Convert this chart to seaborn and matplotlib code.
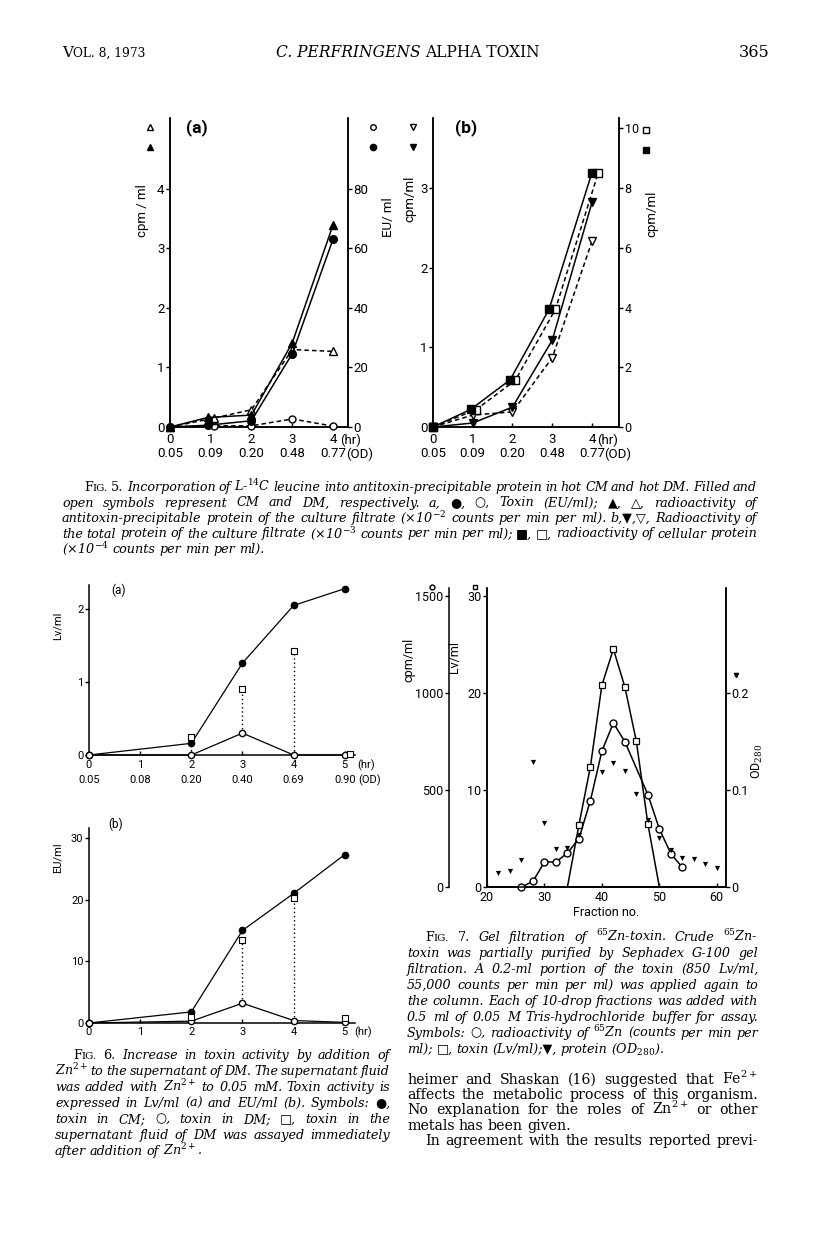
import matplotlib
matplotlib.use("Agg")
import matplotlib.pyplot as plt
from matplotlib.transforms import offset_copy
import seaborn as sns
import pandas as pd

W, H = 816, 1253

# ---------------- data ----------------
# Fig. 5 (a): toxin and radioactivity in the culture filtrate
fig5_hours = [0, 1, 2, 3, 4]
fig5_od = ["0.05", "0.09", "0.20", "0.48", "0.77"]
f5a_hr_filled = [0, 0.93, 2, 3, 4]
f5a_hr_open = [0, 1.08, 2, 3, 4]
f5a_cpm_cm = [0, 0.16, 0.20, 1.41, 3.39]   # filled triangle
f5a_cpm_dm = [0, 0.15, 0.29, 1.30, 1.27]   # open triangle
f5a_eu_cm = [0, 0.6, 2.1, 24.6, 63.0]      # filled circle
f5a_eu_dm = [0, 0.4, 0.4, 2.7, 0.3]        # open circle

# Fig. 5 (b): total protein and cellular protein
f5b_hr_tri = [0, 1, 2, 3, 4]
f5b_hr_sq_filled = [0, 0.95, 1.94, 2.92, 4.0]
f5b_hr_sq_open = [0, 1.08, 2.07, 3.08, 4.16]
f5b_total_cm = [0, 0.05, 0.25, 1.09, 2.82]  # filled down triangle
f5b_total_dm = [0, 0.15, 0.19, 0.87, 2.33]  # open down triangle
f5b_cell_cm = [0, 0.59, 1.58, 3.94, 8.52]   # filled square
f5b_cell_dm = [0, 0.58, 1.56, 3.94, 8.52]   # open square

# Fig. 6: toxin with Zn2+
fig6_hours = [0, 1, 2, 3, 4, 5]
fig6_od = ["0.05", "0.08", "0.20", "0.40", "0.69", "0.90"]
f6_hr = [0, 2, 3, 4, 5]
f6a_cm = [0, 0.16, 1.26, 2.05, 2.28]
f6a_dm = [0, 0.0, 0.30, 0.0, 0.0]
f6a_zn_hr = [2, 3, 4, 5.1]
f6a_zn = [0.25, 0.90, 1.42, 0.01]
f6b_cm = [0, 1.8, 15.0, 21.0, 27.3]
f6b_dm = [0, 0.3, 3.2, 0.4, 0.1]
f6b_zn_hr = [2, 3, 4, 5]
f6b_zn = [1.0, 13.4, 20.3, 0.8]

# Fig. 7: gel filtration
f7_frac_cpm = [26, 28, 30, 32, 34, 36, 38, 40, 42, 44, 48, 50, 52, 54]
f7_cpm = [0, 29, 129, 129, 175, 249, 445, 700, 845, 748, 476, 299, 172, 101]
f7_frac_lv = [34, 36, 38, 40, 42, 44, 46, 48, 50]
f7_lv = [0, 6.4, 12.4, 20.8, 24.5, 20.6, 15.0, 6.5, 0]
f7_frac_od = [22, 24, 26, 28, 30, 32, 34, 36, 40, 42, 44, 46, 48, 50, 52, 54, 56, 58, 60]
f7_od = [0.014, 0.016, 0.028, 0.129, 0.066, 0.039, 0.040, 0.054, 0.118, 0.128,
         0.120, 0.096, 0.069, 0.050, 0.038, 0.030, 0.029, 0.024, 0.020]

# ---------------- style ----------------
sns.set_style("ticks")
plt.rcParams["font.family"] = ["Roboto", "DejaVu Sans"]
plt.rcParams["mathtext.fontset"] = "dejavuserif"
plt.rcParams["axes.linewidth"] = 1.1
for k in ("text.color", "axes.labelcolor", "axes.edgecolor", "xtick.color", "ytick.color"):
    plt.rcParams[k] = "black"

fig = plt.figure(figsize=(W / 100, H / 100), dpi=100)
fig.patch.set_facecolor("white")
rend = fig.canvas.get_renderer()
SERIF = ["DejaVu Serif", "DejaVu Sans"]


def add_ax(x0, y0, x1, y1):
    a = fig.add_axes([x0 / W, 1 - y1 / H, (x1 - x0) / W, (y1 - y0) / H])
    a.patch.set_alpha(0)
    return a


def curve(ax, x, y, marker, filled, ls="-", ms=6, lw=1.1, **kw):
    df = pd.DataFrame({"x": x, "y": y})
    sns.lineplot(data=df, x="x", y="y", ax=ax, sort=False, estimator=None,
                 color="k", marker=marker, markersize=ms,
                 markerfacecolor="k" if filled else "white",
                 markeredgecolor="k", markeredgewidth=1.0,
                 linewidth=lw, linestyle=ls, clip_on=False, zorder=3, **kw)
    ax.set_xlabel("")
    ax.set_ylabel("")


def y_axis(ax, side, ticks, size):
    ax.set_yticks(ticks)
    ax.set_yticklabels([f"{t:g}" for t in ticks])
    ax.tick_params(axis="y", direction="out", length=3, width=1, pad=1,
                   labelsize=size, left=side == "left", right=side == "right",
                   labelleft=side == "left", labelright=side == "right")


def x_rows(ax, xs, rows, dys, size, units, unit_dx):
    ax.set_xticks(xs)
    ax.tick_params(axis="x", direction="in", length=3, width=1, labelbottom=False)
    for labels, dy, unit, udx in zip(rows, dys, units, unit_dx):
        tr = offset_copy(ax.get_xaxis_transform(), fig=fig, x=0, y=-dy, units="dots")
        for x, lab in zip(xs, labels):
            ax.text(x, 0, lab, transform=tr, ha="center", va="center", fontsize=size)
        if unit:
            tr2 = offset_copy(ax.get_xaxis_transform(), fig=fig, x=udx, y=-dy, units="dots")
            ax.text(xs[-1], 0, unit, transform=tr2, ha="left", va="center", fontsize=size)


def key(ax, xa, ya, marker, filled, ms=6):
    ax.plot([xa], [ya], marker=marker, ms=ms, color="k", mfc="k" if filled else "white",
            mec="k", mew=1, transform=ax.transAxes, clip_on=False)


# ---------------- Fig. 5a ----------------
ax = add_ax(170, 118, 348, 427)
ax.set_xlim(0, 4.37)
ax.set_ylim(0, 5.19)
axr = ax.twinx()
axr.set_ylim(0, 103.8)
curve(ax, f5a_hr_open, f5a_cpm_dm, "^", False, ls=(0, (3, 2)), ms=6)
curve(ax, f5a_hr_filled, f5a_cpm_cm, "^", True, ms=6)
curve(axr, f5a_hr_open, f5a_eu_dm, "o", False, ls=(0, (3, 2)), ms=5)
curve(axr, f5a_hr_filled, f5a_eu_cm, "o", True, ms=5.5)
for a in (ax, axr):
    a.spines["top"].set_visible(False)
y_axis(ax, "left", [0, 1, 2, 3, 4], 9.5)
y_axis(axr, "right", [0, 20, 40, 60, 80], 9.5)
x_rows(ax, fig5_hours, [[f"{h}" for h in fig5_hours], fig5_od], [13, 27], 9.5,
       ["(hr)", "(OD)"], [7, 13])
ax.set_ylabel("cpm / ml", fontsize=9.5)
ax.yaxis.set_label_coords(-0.12, 0.70)
axr.set_ylabel("EU/ ml", fontsize=9.5)
axr.yaxis.set_label_coords(1.19, 0.68)
ax.text(0.15, 0.97, "(a)", transform=ax.transAxes, fontsize=12.5, fontweight="bold",
        ha="center", va="center")
key(ax, -0.11, 0.97, "^", False, 5)
key(ax, -0.11, 0.905, "^", True, 5)
key(ax, 1.14, 0.97, "o", False, 4)
key(ax, 1.14, 0.905, "o", True, 4.5)

# ---------------- Fig. 5b ----------------
ax = add_ax(433, 118, 619, 427)
ax.set_xlim(0, 4.68)
ax.set_ylim(0, 3.88)
axr = ax.twinx()
axr.set_ylim(0, 3.88 * 8 / 3)
curve(axr, f5b_hr_sq_open, f5b_cell_dm, "s", False, ls=(0, (3, 2)), ms=6)
curve(axr, f5b_hr_sq_filled, f5b_cell_cm, "s", True, ms=6)
curve(ax, f5b_hr_tri, f5b_total_dm, "v", False, ls=(0, (3, 2)), ms=5.5)
curve(ax, f5b_hr_tri, f5b_total_cm, "v", True, ms=6)
for a in (ax, axr):
    a.spines["top"].set_visible(False)
y_axis(ax, "left", [0, 1, 2, 3], 9.5)
y_axis(axr, "right", [0, 2, 4, 6, 8, 10], 9)
x_rows(ax, fig5_hours, [[f"{h}" for h in fig5_hours], fig5_od], [13, 27], 9.5,
       ["(hr)", "(OD)"], [5, 12])
ax.set_ylabel("cpm/ml", fontsize=9.5)
ax.yaxis.set_label_coords(-0.09, 0.74)
axr.set_ylabel("cpm/ml", fontsize=9.5)
axr.yaxis.set_label_coords(1.14, 0.69)
ax.text(0.18, 0.97, "(b)", transform=ax.transAxes, fontsize=12.5, fontweight="bold",
        ha="center", va="center")
key(ax, -0.11, 0.97, "v", False, 5)
key(ax, -0.11, 0.905, "v", True, 5)
key(ax, 1.145, 0.96, "s", False, 5)
key(ax, 1.145, 0.895, "s", True, 5)

# ---------------- Fig. 6a ----------------
ax = add_ax(89, 585, 355, 755)
ax.set_xlim(0, 5.2)
ax.set_ylim(0, 2.33)
ax.vlines(f6a_zn_hr[:3], [f6a_dm[f6_hr.index(h)] for h in f6a_zn_hr[:3]], f6a_zn[:3],
          colors="k", linestyles=(0, (1, 2)), linewidth=1)
curve(ax, f6_hr, f6a_cm, "o", True, ms=4.5, lw=0.9)
curve(ax, f6_hr, f6a_dm, "o", False, ms=4.5, lw=0.9)
sns.scatterplot(x=f6a_zn_hr, y=f6a_zn, ax=ax, marker="s", s=14, facecolor="white",
                edgecolor="k", linewidth=0.8, zorder=4, clip_on=False)
sns.despine(ax=ax)
y_axis(ax, "left", [0, 1, 2], 8)
x_rows(ax, fig6_hours, [[f"{h}" for h in fig6_hours], fig6_od], [10, 25], 8,
       ["(hr)", "(OD)"], [12, 13])
ax.set_ylabel("Lv/ml", fontsize=8)
ax.yaxis.set_label_coords(-0.10, 0.76)
ax.text(0.11, 0.97, "(a)", transform=ax.transAxes, fontsize=8.5, ha="center", va="center")

# ---------------- Fig. 6b ----------------
ax = add_ax(89, 828, 355, 1023)
ax.set_xlim(0, 5.2)
ax.set_ylim(0, 31.6)
ax.vlines(f6b_zn_hr[:3], [f6b_dm[f6_hr.index(h)] for h in f6b_zn_hr[:3]], f6b_zn[:3],
          colors="k", linestyles=(0, (1, 2)), linewidth=1)
curve(ax, f6_hr, f6b_cm, "o", True, ms=4.5, lw=0.9)
curve(ax, f6_hr, f6b_dm, "o", False, ms=4.5, lw=0.9)
sns.scatterplot(x=f6b_zn_hr, y=f6b_zn, ax=ax, marker="s", s=14, facecolor="white",
                edgecolor="k", linewidth=0.8, zorder=4, clip_on=False)
sns.despine(ax=ax)
y_axis(ax, "left", [0, 10, 20, 30], 8)
x_rows(ax, fig6_hours, [[f"{h}" for h in fig6_hours]], [9], 8, ["(hr)"], [9])
ax.set_ylabel("EU/ml", fontsize=8)
ax.yaxis.set_label_coords(-0.10, 0.85)
ax.text(0.1, 1.02, "(b)", transform=ax.transAxes, fontsize=8.5, ha="center", va="center")

# ---------------- Fig. 7 ----------------
ax = add_ax(487, 588, 726, 887)
ax.set_xlim(20, 61.6)
ax.set_ylim(0, 30.8)
ax_cpm = ax.twinx()
ax_cpm.set_ylim(0, 1540)
ax_od = ax.twinx()
ax_od.set_ylim(0, 0.308)
df_lv = pd.DataFrame({"x": f7_frac_lv, "y": f7_lv})
sns.lineplot(data=df_lv, x="x", y="y", ax=ax, color="k", linewidth=1.1, sort=False,
             estimator=None, marker="s", markersize=4.5, markevery=slice(1, -1),
             markerfacecolor="white", markeredgecolor="k", markeredgewidth=0.9, zorder=3)
curve(ax_cpm, f7_frac_cpm, f7_cpm, "o", False, ms=5, lw=1.1)
sns.scatterplot(x=f7_frac_od, y=f7_od, ax=ax_od, marker="v", s=14, color="k",
                linewidth=0, zorder=4)
ax.set_xlabel("")
ax.set_ylabel("")
ax_od.set_xlabel("")
ax_od.set_ylabel("")
for a in (ax, ax_cpm, ax_od):
    a.spines["top"].set_visible(False)
ax_cpm.spines["right"].set_visible(False)
ax_cpm.spines["left"].set_visible(True)
ax_cpm.spines["left"].set_position(("outward", 38 * 0.72))
ax_cpm.yaxis.set_ticks_position("left")
ax_cpm.yaxis.set_label_position("left")
y_axis(ax_cpm, "left", [0, 500, 1000, 1500], 9)
y_axis(ax, "left", [0, 10, 20, 30], 9)
y_axis(ax_od, "right", [0, 0.1, 0.2], 9)
ax_od.set_yticklabels(["0", "0.1", "0.2"])
ax.set_xticks([20, 30, 40, 50, 60])
ax.tick_params(axis="x", direction="in", length=3, width=1, labelsize=9, pad=3)
ax.set_xlabel("Fraction no.", fontsize=9, labelpad=1)
ax_cpm.set_ylabel("cpm/ml", fontsize=9)
ax_cpm.yaxis.set_label_coords(-0.30, 0.76)
ax.set_ylabel("Lv/ml", fontsize=9)
ax.yaxis.set_label_coords(-0.11, 0.77)
ax_od.set_ylabel("OD$_{280}$", fontsize=9)
ax_od.yaxis.set_label_coords(1.10, 0.42)
key(ax, -0.23, 1.005, "o", False, 3.5)
key(ax, -0.05, 1.005, "s", False, 3.5)
key(ax, 1.04, 0.71, "v", True, 3)

# ---------------- text ----------------


def tokens(line, italic, size):
    out = []
    for w in line.split(" "):
        if w == "FIG.":
            out.append([("F", dict(size=size, style="normal")),
                        ("IG.", dict(size=size * 0.8, style="normal"))])
        elif w in ("5.", "6.", "7.") and len(out) == 1:
            out.append([(w, dict(size=size, style="normal"))])
        else:
            out.append([(w, dict(size=size, style="italic" if italic else "normal"))])
    return out


def measure(toks):
    made, widths = [], []
    for tok in toks:
        parts, w = [], 0
        for s, kw in tok:
            t = fig.text(0, 0, s, family=SERIF, va="baseline", ha="left", color="k", **kw)
            parts.append((t, w))
            w += t.get_window_extent(renderer=rend).width
        made.append(parts)
        widths.append(w)
    return made, widths


def put_line(line, x0, x1, yb, italic=True, size=9.2, justify=True):
    toks = tokens(line, italic, size)
    made, widths = measure(toks)
    n = len(toks)
    if n > 1 and sum(widths) + (n - 1) * 2.5 > x1 - x0:
        # too long for the column: shrink this line a little
        scale = (x1 - x0 - (n - 1) * 2.5) / sum(widths)
        for parts in made:
            for t, _ in parts:
                t.remove()
        toks = tokens(line, italic, size * scale)
        made, widths = measure(toks)
    if justify and n > 1:
        gap = (x1 - x0 - sum(widths)) / (n - 1)
    else:
        gap = size * 100 / 72 * 0.3
    x = x0
    for parts, w in zip(made, widths):
        for t, off in parts:
            t.set_position(((x + off) / W, 1 - yb / H))
        x += w + gap


def paragraph(lines, x0, x1, y0, dy, indent, italic=True, size=9.2):
    for i, ln in enumerate(lines):
        put_line(ln, x0 + (indent if i == 0 else 0), x1, y0 + i * dy, italic, size,
                 justify=i < len(lines) - 1)


def run(pieces, x, yb, align="left"):
    # pieces: (text, size, style) set one after another on a baseline
    objs = [fig.text(0, 0, s, family=SERIF, size=sz, style=st, va="baseline", color="k")
            for s, sz, st in pieces]
    widths = [o.get_window_extent(renderer=rend).width for o in objs]
    if align == "center":
        x -= sum(widths) / 2
    elif align == "right":
        x -= sum(widths)
    for o, w in zip(objs, widths):
        o.set_position((x / W, 1 - yb / H))
        x += w


# running head
run([("V", 11, "normal"), ("OL. 8, 1973", 8.8, "normal")], 62, 57)
run([("C. PERFRINGENS ", 11.2, "italic"), ("ALPHA TOXIN", 11.2, "normal")], 408, 57,
    align="center")
run([("365", 11.5, "normal")], 770, 57, align="right")

cap5 = [
    "FIG. 5. Incorporation of L-$^{14}$C leucine into antitoxin-precipitable protein in hot CM and hot DM. Filled and",
    "open symbols represent CM and DM, respectively. a, \u25cf, \u25cb, Toxin (EU/ml); \u25b2, \u25b3, radioactivity of",
    "antitoxin-precipitable protein of the culture filtrate (\u00d710$^{-2}$ counts per min per ml). b,\u25bc,\u25bd, Radioactivity of",
    "the total protein of the culture filtrate (\u00d710$^{-3}$ counts per min per ml); \u25a0, \u25a1, radioactivity of cellular protein",
    "(\u00d710$^{-4}$ counts per min per ml).",
]
paragraph(cap5, 62, 757, 491, 15.5, 22)

cap6 = [
    "FIG. 6. Increase in toxin activity by addition of",
    "Zn$^{2+}$ to the supernatant of DM. The supernatant fluid",
    "was added with Zn$^{2+}$ to 0.05 mM. Toxin activity is",
    "expressed in Lv/ml (a) and EU/ml (b). Symbols: \u25cf,",
    "toxin in CM; \u25cb, toxin in DM; \u25a1, toxin in the",
    "supernatant fluid of DM was assayed immediately",
    "after addition of Zn$^{2+}$.",
]
paragraph(cap6, 55, 390, 1059, 16, 18)

cap7 = [
    "FIG. 7. Gel filtration of $^{65}$Zn-toxin. Crude $^{65}$Zn-",
    "toxin was partially purified by Sephadex G-100 gel",
    "filtration. A 0.2-ml portion of the toxin (850 Lv/ml,",
    "55,000 counts per min per ml) was applied again to",
    "the column. Each of 10-drop fractions was added with",
    "0.5 ml of 0.05 M Tris-hydrochloride buffer for assay.",
    "Symbols: \u25cb, radioactivity of $^{65}$Zn (counts per min per",
    "ml); \u25a1, toxin (Lv/ml);\u25bc, protein (OD$_{280}$).",
]
paragraph(cap7, 407, 758, 941, 16, 18)

body = [
    "heimer and Shaskan (16) suggested that Fe$^{2+}$",
    "affects the metabolic process of this organism.",
    "No explanation for the roles of Zn$^{2+}$ or other",
    "metals has been given.",
]
paragraph(body, 407, 758, 1084, 15.2, 0, italic=False, size=10.2)
put_line("In agreement with the results reported previ-", 425, 758, 1084 + 4 * 15.2,
         italic=False, size=10.2)

fig.savefig("out.png", dpi=100, facecolor="white")
